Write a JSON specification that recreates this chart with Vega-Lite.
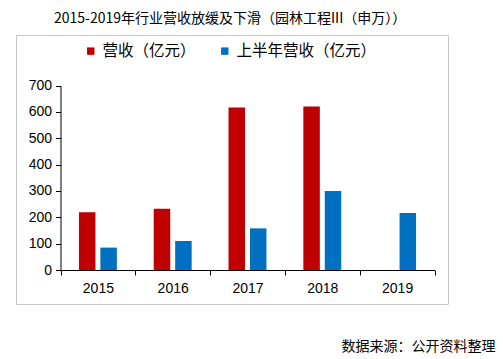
{
  "$schema": "https://vega.github.io/schema/vega-lite/v6.json",
  "autosize": "none",
  "width": 432,
  "height": 269,
  "padding": {"left": 16, "top": 35, "right": 55, "bottom": 55},
  "background": "white",
  "title": {
    "text": "2015-2019年行业营收放缓及下滑（园林工程III（申万））",
    "anchor": "start",
    "dx": 38,
    "offset": 9,
    "font": "Noto Sans CJK SC",
    "fontSize": 14,
    "fontWeight": "normal",
    "color": "#000000"
  },
  "config": {
    "view": {"stroke": "#c8c8c8", "strokeWidth": 1}
  },
  "data": {
    "values": [
      {"year": "2015", "series": "营收（亿元）", "value": 219},
      {"year": "2015", "series": "上半年营收（亿元）", "value": 85},
      {"year": "2016", "series": "营收（亿元）", "value": 232},
      {"year": "2016", "series": "上半年营收（亿元）", "value": 110},
      {"year": "2017", "series": "营收（亿元）", "value": 617},
      {"year": "2017", "series": "上半年营收（亿元）", "value": 158},
      {"year": "2018", "series": "营收（亿元）", "value": 620},
      {"year": "2018", "series": "上半年营收（亿元）", "value": 300},
      {"year": "2019", "series": "上半年营收（亿元）", "value": 216}
    ]
  },
  "mark": {"type": "bar"},
  "encoding": {
    "x": {
      "field": "year",
      "type": "nominal",
      "scale": {"domain": ["2015", "2016", "2017", "2018", "2019"], "range": [44.5, 418.5], "paddingInner": 0, "paddingOuter": 0},
      "axis": {
        "title": "数据来源：公开资料整理",
        "titleFont": "Noto Sans CJK SC",
        "titleFontSize": 14,
        "titleFontWeight": "normal",
        "titleColor": "#000000",
        "titleAnchor": "end",
        "titleAlign": "right",
        "titleX": 479,
        "titleY": 69,
        "offset": -34,
        "labelAngle": 0,
        "labelFont": "Liberation Sans",
        "labelFontSize": 14,
        "labelColor": "#000000",
        "labelPadding": 6,
        "tickBand": "extent",
        "tickSize": 5,
        "tickColor": "#000000",
        "domainColor": "#000000",
        "grid": false
      }
    },
    "xOffset": {
      "field": "series",
      "type": "nominal",
      "scale": {"domain": ["营收（亿元）", "上半年营收（亿元）"], "paddingInner": 0.23, "paddingOuter": 0.86}
    },
    "y": {
      "field": "value",
      "type": "quantitative",
      "scale": {"domain": [0, 700], "nice": false, "range": [235, 50.5]},
      "axis": {
        "title": null,
        "values": [0, 100, 200, 300, 400, 500, 600, 700],
        "offset": -44.5,
        "labelFont": "Liberation Sans",
        "labelFontSize": 14,
        "labelColor": "#000000",
        "labelPadding": 4,
        "tickSize": 5,
        "tickColor": "#000000",
        "domainColor": "#000000",
        "grid": false
      }
    },
    "color": {
      "field": "series",
      "type": "nominal",
      "scale": {"domain": ["营收（亿元）", "上半年营收（亿元）"], "range": ["#C00000", "#0070C0"]},
      "legend": {
        "title": null,
        "orient": "none",
        "direction": "horizontal",
        "legendX": 67,
        "legendY": 8,
        "symbolType": "square",
        "symbolSize": 55,
        "symbolStrokeWidth": 0,
        "labelFont": "Noto Sans CJK SC",
        "labelFontSize": 15.5,
        "labelColor": "#000000",
        "labelOffset": 4,
        "columnPadding": 21
      }
    }
  }
}
